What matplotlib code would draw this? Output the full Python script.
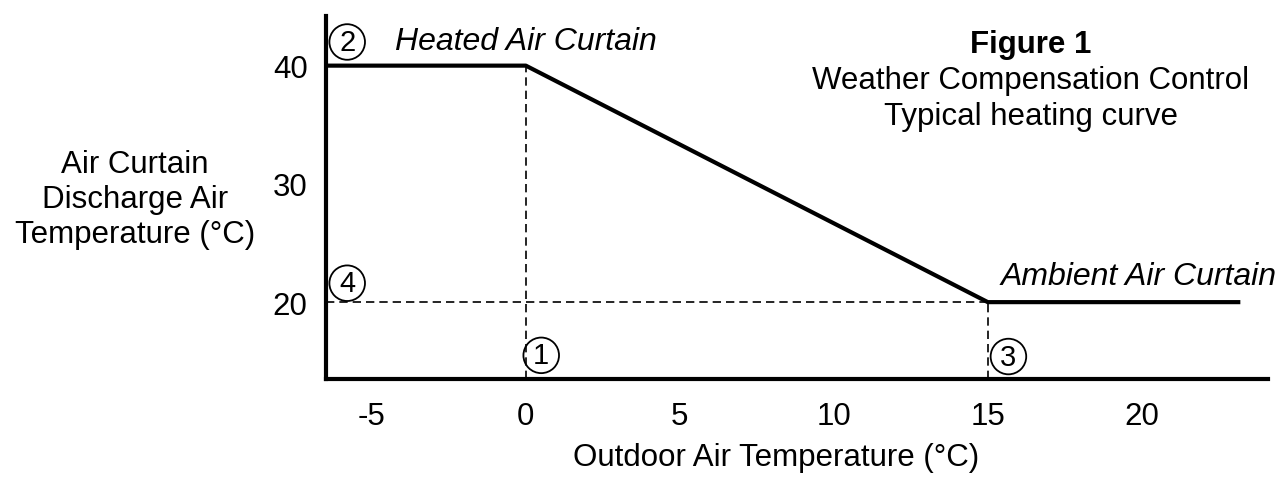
import matplotlib
matplotlib.use("Agg")
import matplotlib.pyplot as plt

plt.rcParams['font.family'] = ['Liberation Sans', 'DejaVu Sans']
plt.rcParams['axes.unicode_minus'] = False

# heating curve breakpoints
outdoor = [-6.5, 0, 15, 23.2]
discharge = [40, 40, 20, 20]
xticks = [-5, 0, 5, 10, 15, 20]
yticks = [20, 30, 40]
xlim = (-6.5, 24.1)
ylim = (13.5, 44.2)

fig = plt.figure(figsize=(12.77, 4.85), dpi=100)
ax = fig.add_axes([0.255, 0.2165, 0.738, 0.7485])

ax.plot(outdoor, discharge, color='black', lw=3, solid_capstyle='butt')
# guide lines
ax.plot([0, 0], [ylim[0], 40], color='black', lw=1.2, ls=(0, (5, 3)))
ax.plot([15, 15], [ylim[0], 20], color='black', lw=1.2, ls=(0, (5, 3)))
ax.plot([xlim[0], 15], [20, 20], color='black', lw=1.2, ls=(0, (5, 3)))

ax.set_xlim(*xlim)
ax.set_ylim(*ylim)
ax.set_xticks(xticks)
ax.set_yticks(yticks)
ax.tick_params(length=0, labelsize=22.5)
ax.tick_params(axis='x', pad=16)
ax.tick_params(axis='y', pad=13)
for s in ['top', 'right']:
    ax.spines[s].set_visible(False)
for s in ['left', 'bottom']:
    ax.spines[s].set_linewidth(3)

# circled point numbers
circ = dict(fontsize=21, ha='center', va='center',
            bbox=dict(boxstyle='circle,pad=0.13', fc='none', ec='black', lw=1.3))
ax.text(-5.8, 42.0, '2', **circ)
ax.text(-5.8, 21.6, '4', **circ)
ax.text(0.5, 15.5, '1', **circ)
ax.text(15.67, 15.4, '3', **circ)

ax.text(-4.24, 42.1, 'Heated Air Curtain', fontsize=23, style='italic',
        ha='left', va='center')
ax.text(15.4, 22.2, 'Ambient Air Curtain', fontsize=23, style='italic',
        ha='left', va='center')

fig.text(1031 / 1277, 1 - 45 / 485, 'Figure 1', fontsize=22.5, weight='bold',
         ha='center', va='center')
fig.text(1031 / 1277, 1 - 81 / 485, 'Weather Compensation Control', fontsize=22.5,
         ha='center', va='center')
fig.text(1031 / 1277, 1 - 117 / 485, 'Typical heating curve', fontsize=22.5,
         ha='center', va='center')

fig.text(135 / 1277, 1 - 200 / 485, 'Air Curtain\nDischarge Air\nTemperature (°C)',
         fontsize=22.5, ha='center', va='center', linespacing=1.22)
fig.text(776 / 1277, 1 - 458 / 485, 'Outdoor Air Temperature (°C)', fontsize=22.5,
         ha='center', va='center')

fig.savefig('out.png', dpi=100)
